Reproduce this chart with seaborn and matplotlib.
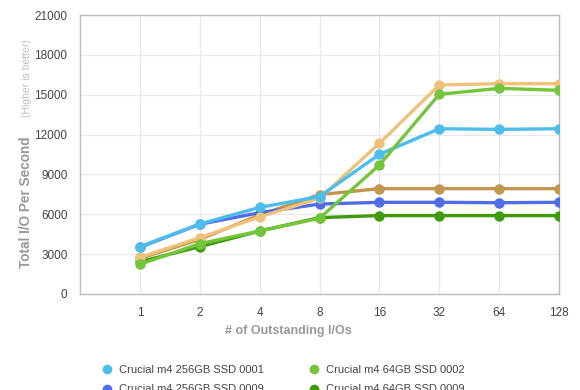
import matplotlib
matplotlib.use("Agg")
import matplotlib.pyplot as plt
import seaborn as sns
import pandas as pd
from matplotlib.lines import Line2D

categories = ["1", "2", "4", "8", "16", "32", "64", "128"]
yticks = [0, 3000, 6000, 9000, 12000, 15000, 18000, 21000]

series_names = [
    "Crucial m4 256GB SSD 0001",
    "Crucial m4 256GB SSD 0009",
    "Crucial m4 128GB SSD 0002",
    "Crucial m4 64GB SSD 0002",
    "Crucial m4 64GB SSD 0009",
    "Crucial m4 128GB SSD 0009",
]
s256_0001 = [3560, 5270, 6520, 7330, 10510, 12440, 12390, 12440]
s256_0009 = [3520, 5250, 6120, 6770, 6900, 6900, 6870, 6900]
s128_0002 = [2760, 4240, 5800, 7200, 11340, 15730, 15830, 15830]
s64_0002 = [2230, 3790, 4740, 5700, 9710, 15030, 15480, 15330]
s64_0009 = [2430, 3560, 4740, 5750, 5900, 5900, 5900, 5900]
s128_0009 = [2680, 4110, 5950, 7480, 7930, 7930, 7930, 7930]
values = [s256_0001, s256_0009, s128_0002, s64_0002, s64_0009, s128_0009]

colors = {
    "Crucial m4 256GB SSD 0001": "#4dbdeb",
    "Crucial m4 256GB SSD 0009": "#4f6de6",
    "Crucial m4 128GB SSD 0002": "#efc27c",
    "Crucial m4 64GB SSD 0002": "#74c53c",
    "Crucial m4 64GB SSD 0009": "#409b0c",
    "Crucial m4 128GB SSD 0009": "#c1964f",
}
draw_order = [
    "Crucial m4 128GB SSD 0009",
    "Crucial m4 64GB SSD 0009",
    "Crucial m4 256GB SSD 0009",
    "Crucial m4 128GB SSD 0002",
    "Crucial m4 256GB SSD 0001",
    "Crucial m4 64GB SSD 0002",
]

rows = []
for name, vals in zip(series_names, values):
    for i, v in enumerate(vals):
        rows.append({"drive": name, "pos": i, "iops": v})
df = pd.DataFrame(rows)

sns.set_theme(style="white")
plt.rcParams["font.family"] = ["Liberation Sans", "DejaVu Sans"]

fig = plt.figure(figsize=(5.8, 3.9), dpi=100)
ax = fig.add_axes([80 / 580, 1 - 294 / 390, (559 - 80) / 580, (294 - 15) / 390])

for z, name in enumerate(draw_order):
    sub = df[df["drive"] == name]
    sns.lineplot(data=sub, x="pos", y="iops", ax=ax, color=colors[name],
                 marker="o", markersize=7.5, markeredgewidth=0,
                 linewidth=2.4, legend=False, zorder=3 + z)

ax.set_xlim(-1, 7)
ax.set_ylim(0, 21000)
ax.set_xticks(range(len(categories)))
ax.set_xticklabels(categories)
ax.set_yticks(yticks)
ax.set_yticklabels([str(t) for t in yticks])
ax.grid(True, color="#e9e9e9", linewidth=0.9)
ax.set_axisbelow(True)
for sp in ax.spines.values():
    sp.set_color("#bdbdbd")
    sp.set_linewidth(1.0)
ax.tick_params(axis="both", length=0, labelsize=8.5, colors="#444444")
ax.tick_params(axis="x", pad=9)
ax.tick_params(axis="y", pad=9)
ax.set_xlabel("")
ax.set_ylabel("")

fig.text(288 / 580, 1 - 331 / 390, "# of Outstanding I/Os",
         ha="center", va="center", fontsize=9, fontweight="bold", color="#999999")
fig.text(26 / 580, 1 - 202 / 390, "Total I/O Per Second", rotation=90,
         ha="center", va="center", fontsize=9.8, fontweight="bold", color="#999999")
fig.text(27 / 580, 1 - 78 / 390, "(Higher is better)", rotation=90,
         ha="center", va="center", fontsize=7.5, color="#c0c0c0")

handles = [Line2D([], [], linestyle="none", marker="o", markersize=7,
                  markeredgewidth=0, color=colors[n]) for n in series_names]
fig.legend(handles, series_names, ncol=2, loc="upper left",
           bbox_to_anchor=(101 / 580, 1 - 365 / 390), frameon=False,
           fontsize=8, labelcolor="#444444", columnspacing=4.0,
           handletextpad=0.6, labelspacing=0.85, handlelength=1.0,
           borderpad=0, borderaxespad=0)

fig.savefig("out.png", dpi=100)
